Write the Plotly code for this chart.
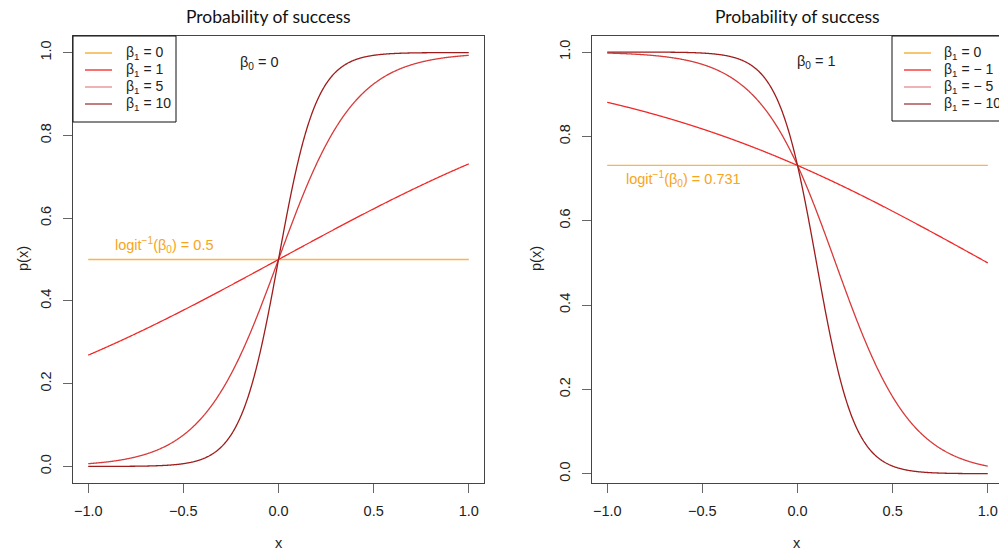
import numpy as np
import plotly.graph_objects as go

# ---- data ----
x_grid = np.linspace(-1, 1, 801)
beta0_left = 0
beta1_left = [0, 1, 5, 10]
beta0_right = 1
beta1_right = [0, -1, -5, -10]
line_colors = ["#F9B54A", "#F02828", "#D83A3A", "#9E1C1C"]
legend_colors = ["#F5A623", "#F52525", "#E88A8A", "#A03838"]
legend_left = ["β<sub>1</sub> = 0", "β<sub>1</sub> = 1", "β<sub>1</sub> = 5", "β<sub>1</sub> = 10"]
legend_right = ["β<sub>1</sub> = 0", "β<sub>1</sub> = − 1", "β<sub>1</sub> = − 5", "β<sub>1</sub> = − 10"]
x_ticks = [-1.0, -0.5, 0.0, 0.5, 1.0]
x_ticktext = ["−1.0", "−0.5", "0.0", "0.5", "1.0"]
y_ticks = [0.0, 0.2, 0.4, 0.6, 0.8, 1.0]
y_ticktext = ["0.0", "0.2", "0.4", "0.6", "0.8", "1.0"]


def logistic(b0, b1, x):
    return 1.0 / (1.0 + np.exp(-(b0 + b1 * x)))


OFF = 8  # page body margin offset
W, H = 1007, 551


def px(xp):
    return (xp - OFF) / W


def py(yp):
    return 1 - (yp - OFF) / H


fig = go.Figure()

for b1, c in zip(beta1_left, line_colors):
    fig.add_trace(go.Scatter(x=x_grid, y=logistic(beta0_left, b1, x_grid), mode="lines",
                             line=dict(color=c, width=1.3, simplify=False), xaxis="x", yaxis="y",
                             showlegend=False, hoverinfo="skip"))
for b1, c in zip(beta1_right, line_colors):
    fig.add_trace(go.Scatter(x=x_grid, y=logistic(beta0_right, b1, x_grid), mode="lines",
                             line=dict(color=c, width=1.3, simplify=False), xaxis="x2", yaxis="y2",
                             showlegend=False, hoverinfo="skip"))

tickfont = dict(family="Liberation Sans, Arial, sans-serif", size=14.5, color="#222")
axis_common = dict(showline=True, mirror=True, linecolor="#444", linewidth=1,
                   ticks="outside", ticklen=9, tickcolor="#666", tickwidth=1,
                   showgrid=False, zeroline=False, tickfont=tickfont,
                   ticklabelstandoff=6)

left_dom = [px(73), px(484)]
right_dom = [px(592), px(1003)]
y_dom = [py(483), py(36)]

fig.update_layout(
    width=W, height=H, margin=dict(l=0, r=0, t=0, b=0),
    paper_bgcolor="white", plot_bgcolor="white",
    xaxis=dict(domain=left_dom, range=[-1.08, 1.08], tickvals=x_ticks,
               ticktext=x_ticktext, anchor="y", **axis_common),
    yaxis=dict(domain=y_dom, range=[-0.04, 1.04], tickvals=y_ticks,
               ticktext=y_ticktext, tickangle=-90, anchor="x", **axis_common),
    xaxis2=dict(domain=right_dom, range=[-1.08, 1.08], tickvals=x_ticks,
                ticktext=x_ticktext, anchor="y2", **axis_common),
    yaxis2=dict(domain=y_dom, range=[-0.022, 1.038], tickvals=y_ticks,
                ticktext=y_ticktext, tickangle=-90, anchor="x2", **axis_common),
)

ann = []
shapes = []
txtfont = dict(family="Liberation Sans, Arial, sans-serif", size=14.5, color="#222")
legfont = dict(family="Liberation Sans, Arial, sans-serif", size=14, color="#222")
titlefont = dict(family="Lato, Open Sans, sans-serif", size=17.5, color="#111")

# titles
for cx in (268, 797):
    ann.append(dict(x=px(cx), y=py(17), xref="paper", yref="paper", text="Probability of success",
                    showarrow=False, font=titlefont, xanchor="center", yanchor="middle"))
# axis titles
for cx in (279, 797):
    ann.append(dict(x=px(cx), y=py(543), xref="paper", yref="paper", text="x",
                    showarrow=False, font=txtfont, xanchor="center", yanchor="middle"))
for cx in (23, 536):
    ann.append(dict(x=px(cx), y=py(259), xref="paper", yref="paper", text="p(x)",
                    showarrow=False, font=txtfont, textangle=-90, xanchor="center", yanchor="middle"))

# beta0 labels
ann.append(dict(x=-0.1, y=0.975, xref="x", yref="y", text="β<sub>0</sub> = 0", showarrow=False,
                font=txtfont, xanchor="center", yanchor="middle"))
ann.append(dict(x=0.1, y=0.976, xref="x2", yref="y2", text="β<sub>0</sub> = 1", showarrow=False,
                font=txtfont, xanchor="center", yanchor="middle"))

# logit labels
orange_font = dict(family="Liberation Sans, Arial, sans-serif", size=14.5, color="#F7A51C")
p_left = logistic(beta0_left, 0, 0.0)
p_right = logistic(beta0_right, 0, 0.0)
ann.append(dict(x=-0.6, y=p_left + 0.036, xref="x", yref="y",
                text="logit<sup>−1</sup>(β<sub>0</sub>) = %.1f" % p_left, showarrow=False,
                font=orange_font, xanchor="center", yanchor="middle"))
ann.append(dict(x=-0.6, y=p_right - 0.033, xref="x2", yref="y2",
                text="logit<sup>−1</sup>(β<sub>0</sub>) = %.3f" % p_right, showarrow=False,
                font=orange_font, xanchor="center", yanchor="middle"))


# legends (drawn manually)
def add_legend(x0, x1, y0, y1, lx0, lx1, tx, labels):
    shapes.append(dict(type="rect", xref="paper", yref="paper", x0=px(x0), x1=px(x1),
                       y0=py(y1), y1=py(y0), line=dict(color="#111", width=1),
                       fillcolor="white", layer="above"))
    for i, (lab, c) in enumerate(zip(labels, legend_colors)):
        yy = py(53 + 17 * i)
        shapes.append(dict(type="line", xref="paper", yref="paper", x0=px(lx0), x1=px(lx1),
                           y0=yy, y1=yy, line=dict(color=c, width=1.3), layer="above"))
        ann.append(dict(x=px(tx), y=yy, xref="paper", yref="paper", text=lab, showarrow=False,
                        font=legfont, xanchor="left", yanchor="middle"))


add_legend(73, 176, 36, 122, 85, 112, 124, legend_left)
add_legend(892, 1003, 36, 121, 904, 931, 942, legend_right)

fig.update_layout(annotations=ann, shapes=shapes)
fig.write_html("out.html")
